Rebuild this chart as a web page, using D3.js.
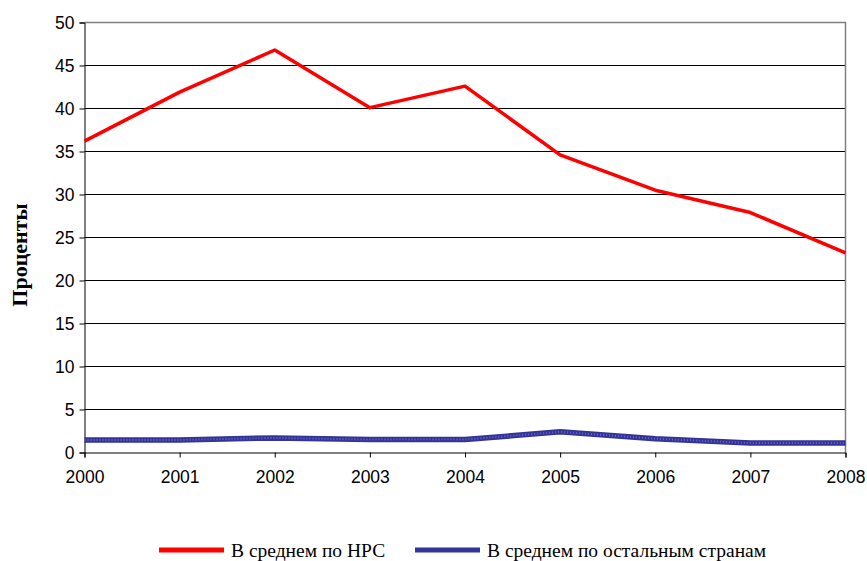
<!DOCTYPE html>
<meta charset="utf-8">
<head>
<title>Проценты: НРС и остальные страны</title>
<script type="text/javascript" src="https://d3js.org/d3.v7.min.js"></script>
<style>
    body { margin: 0; background: #fff; }
</style>
</head>
<body>
<div id="chart"></div>
<script>
    // data
    var years = [2000, 2001, 2002, 2003, 2004, 2005, 2006, 2007, 2008];
    var nrs = [36.2, 41.9, 46.8, 40.1, 42.6, 34.6, 30.5, 27.9, 23.2];
    var others = [1.45, 1.45, 1.7, 1.5, 1.5, 2.4, 1.6, 1.1, 1.1];
    var yTicks = [0, 5, 10, 15, 20, 25, 30, 35, 40, 45, 50];
    var seriesNames = ["В среднем по НРС", "В среднем по остальным странам"];
    var seriesColors = ["#ff0000", "#333399"];

    var margin = ({top: 22.5, right: 21.5, bottom: 108.5, left: 84.5});
    var width = 867 - margin.left - margin.right;
    var height = 561 - margin.top - margin.bottom;

    var sans = "'Liberation Sans', Arial, sans-serif";
    var serif = "'Liberation Serif', 'Times New Roman', serif";

    var svg = d3.select("#chart")
                .append("svg")
                .attr("width", 867)
                .attr("height", 561);

    var g = svg.append("g")
               .attr("transform", "translate(" + margin.left + "," + margin.top + ")");

    var x = d3.scaleLinear().domain([2000, 2008]).range([0, width]);
    var y = d3.scaleLinear().domain([0, 50]).range([height, 0]);

    // gridlines
    g.append("g").selectAll("line")
        .data(yTicks.filter(function (d) { return d > 0 && d < 50; }))
        .enter().append("line")
        .attr("x1", 0).attr("x2", width)
        .attr("y1", function (d) { return y(d); })
        .attr("y2", function (d) { return y(d); })
        .attr("stroke", "#000").attr("stroke-width", 1);

    // gray top and right border
    g.append("path")
        .attr("d", "M0," + y(50) + "H" + width + "V" + height)
        .attr("fill", "none").attr("stroke", "#808080").attr("stroke-width", 1.5);

    // axes
    var yAxis = g.append("g")
        .call(d3.axisLeft(y).tickValues(yTicks).tickSize(5).tickPadding(5).tickFormat(d3.format("d")));
    var xAxis = g.append("g")
        .attr("transform", "translate(0," + height + ")")
        .call(d3.axisBottom(x).tickValues(years).tickSize(5).tickPadding(13).tickFormat(d3.format("d")));
    [yAxis, xAxis].forEach(function (a) {
        a.select(".domain").attr("stroke", "#000");
        a.selectAll(".tick line").attr("stroke", "#000");
        a.selectAll(".tick text")
            .style("font-family", sans).style("font-size", "17.5px").attr("fill", "#000");
    });

    var line = d3.line()
        .x(function (d, i) { return x(years[i]); })
        .y(function (d) { return y(d); });

    g.append("path").datum(others)
        .attr("d", line).attr("fill", "none")
        .attr("stroke", seriesColors[1]).attr("stroke-width", 5.5);
    g.append("path").datum(others)
        .attr("d", line).attr("fill", "none")
        .attr("stroke", "#6a6ac0").attr("stroke-width", 2).attr("stroke-dasharray", "1,2");

    g.append("path").datum(nrs)
        .attr("d", line).attr("fill", "none")
        .attr("stroke", seriesColors[0]).attr("stroke-width", 3.5)
        .attr("stroke-linejoin", "round");

    // y label
    svg.append("text")
        .attr("transform", "translate(27,255) rotate(-90)")
        .attr("text-anchor", "middle")
        .style("font-family", serif)
        .style("font-size", "22px").style("font-weight", "bold")
        .text("Проценты");

    // legend
    var legend = svg.append("g");
    var lx = [159, 415];
    seriesNames.forEach(function (name, i) {
        legend.append("line")
            .attr("x1", lx[i]).attr("x2", lx[i] + 65)
            .attr("y1", 550).attr("y2", 550)
            .attr("stroke", seriesColors[i]).attr("stroke-width", 5);
        legend.append("text")
            .attr("x", lx[i] + 72).attr("y", 557)
            .style("font-family", serif).style("font-size", "19.5px")
            .attr("fill", "#000")
            .text(name);
    });
</script>
</body>
</html>
